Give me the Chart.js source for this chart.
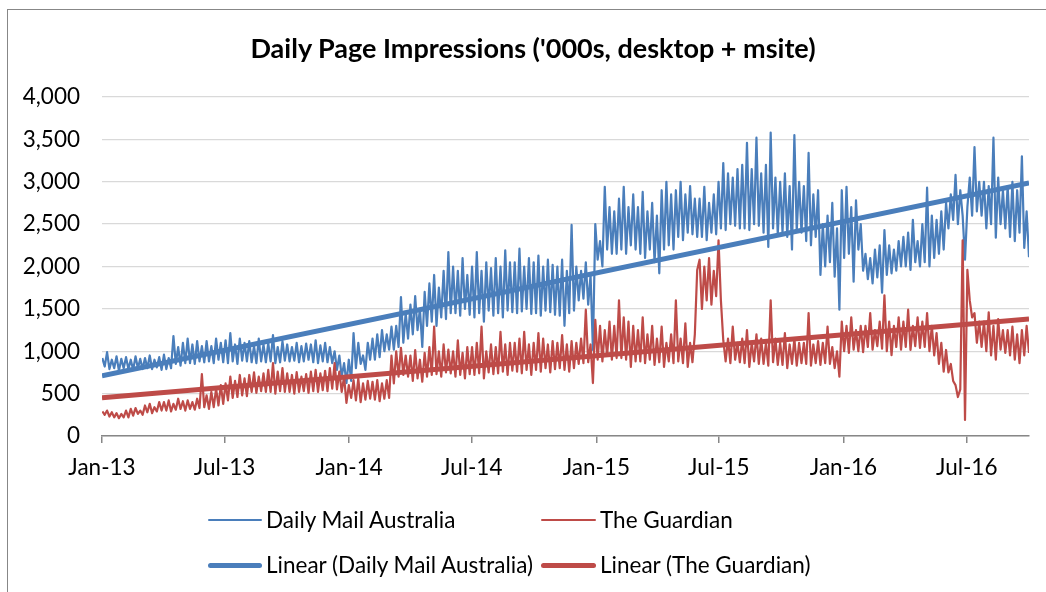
<!DOCTYPE html>
<html>
<head>
<meta charset="utf-8">
<title>Daily Page Impressions</title>
<script src="https://cdn.jsdelivr.net/npm/chart.js"></script>
<style>
  html, body { margin: 0; padding: 0; background: #fff; }
  #wrap { position: relative; width: 1046px; height: 592px; overflow: hidden; font-family: Lato, "Open Sans", sans-serif; }
  #frame { position: absolute; left: 7px; top: 9px; width: 1200px; height: 800px; border-left: 1.5px solid #878787; border-top: 1.5px solid #878787; box-sizing: border-box; }
  canvas { position: absolute; left: 0; top: 0; }
  #title { position: absolute; left: 0; width: 1066px; top: 32px; height: 32px; line-height: 32px; text-align: center; font-size: 27px; font-weight: bold; color: #000; white-space: nowrap; }
  .item { position: absolute; height: 30px; line-height: 30px; font-size: 22.5px; color: #000; white-space: nowrap; }
  .swatch { position: absolute; }
</style>
</head>
<body>
<div id="wrap">
  <div id="frame"></div>
  <canvas id="chart" width="1046" height="592"></canvas>
  <div id="title">Daily Page Impressions ('000s, desktop + msite)</div>
  <div id="legend"></div>
</div>
<script>
// x axis is in days since 1 Jan 2013
var tickDays = [0, 181, 365, 546, 730, 911, 1095, 1277];
var tickLabels = ['Jan-13', 'Jul-13', 'Jan-14', 'Jul-14', 'Jan-15', 'Jul-15', 'Jan-16', 'Jul-16'];
var lastDay = 1369;

// two readings per week (start of week / middle of week), Jan 2013 - Sep 2016
var dmEarly = [
  920, 990, 900, 940, 910,  930, 900, 940, 910,  920, 950, 900, 930,  960, 920, 1180, 1050, 1100,
  1150, 1080, 1120, 1060,  1120, 1060, 1150, 1100,  1130, 1215, 1080, 1150, 1100,  1120, 1060, 1150, 1080,
  1100, 1190, 1050, 1120,  1080, 1050, 1100, 1060, 1090,  1080, 1130, 1070, 1100,  1050, 1000, 950, 860,
  900, 1215, 1100, 950, 1100,  1150, 1200, 1250, 1200,  1290, 1300, 1640, 1450,  1550, 1650, 1500, 1700,
  1800, 1900, 1750, 1950, 2170,  2000, 1950, 2100, 1900,  2000, 2170, 1950, 2050, 1980,  2100, 2000, 2190, 2050,
  2050, 2210, 2000, 2100,  2050, 2130, 2000, 2080, 2020,  2000, 2080, 1950, 2490,  2000, 1950, 2050, 1900,
  2500, 2300, 2940, 2700, 2650,  2800, 2940, 2700, 2850,  2700, 2880, 2650, 2750,  2600, 2900, 3000, 2850,
  2900, 3000, 2850, 2950, 2800,  2800, 2940, 2750, 2850,  3000, 3220, 3100, 3050, 3150,  3200, 3460, 3150, 3520,
  3100, 3200, 3580, 3050,  3000, 3100, 2950, 3550, 3000,  2950, 3340, 2850, 2900,  2500, 2600, 2750, 2450,
  2900, 2940, 2700, 2780, 2500,  2150, 2100, 2200, 2250,  2430, 2250, 2200, 2300,  2350, 2400, 2550, 2300,
  2500, 2930, 2600, 2550, 2650,  2750, 2850, 3080, 2900,  2080, 3050, 3410, 3000,  3000, 2950, 3520, 3050, 2900,
  2950, 3000, 2900, 3300, 2650
];
var dmLate = [
  820, 790, 800, 770, 800,  790, 780, 800, 790,  800, 790, 810, 780,  790, 800, 850, 830, 860,
  860, 850, 880, 870,  880, 860, 900, 870,  860, 880, 850, 890, 880,  870, 860, 880, 870,
  880, 860, 870, 890,  880, 890, 870, 880, 900,  870, 860, 880, 870,  860, 780, 700, 625,
  650, 800, 850, 780, 900,  900, 930, 1000, 1020,  1020, 1050, 1100, 1150,  1200, 1250, 1050, 1300,
  1350, 1300, 1400, 1380, 1450,  1450, 1420, 1500, 1430,  1400, 1450, 1350, 1480, 1420,  1450, 1400, 1480, 1460,
  1450, 1470, 1500, 1440,  1450, 1420, 1480, 1460, 1430,  1420, 1300, 1450, 1480,  1600, 1620, 1550, 1015,
  2080, 2000, 2200, 2150, 2150,  2200, 2150, 2250, 2200,  2150, 2100, 2200, 2050,  1920, 2200, 2250, 2200,
  2350, 2310, 2400, 2380, 2350,  2350, 2310, 2400, 2380,  2450, 2430, 2500, 2480, 2450,  2450, 2430, 2500, 2480,
  2400, 2230, 2450, 2380,  2400, 2350, 2200, 2420, 2400,  2300, 2250, 2350, 1900,  2000, 2050, 1880, 1490,
  2100, 2150, 1820, 2200, 1950,  1850, 1800, 1870, 1690,  1900, 1920, 1950, 2000,  2000, 1960, 2050, 2000,
  2050, 2000, 2100, 2150, 2200,  2450, 2550, 2500, 2600,  2700, 2600, 2650, 2600,  2450, 2500, 2340, 2500, 2450,
  2350, 2300, 2400, 2220, 2110
];
var gEarly = [
  290, 300, 280, 270, 260,  300, 320, 330, 300,  360, 380, 340, 400,  400, 420, 380, 440, 410,
  420, 400, 440, 730,  480, 520, 560, 600,  620, 700, 650, 720, 680,  720, 750, 700, 740,
  780, 860, 760, 800,  740, 720, 755, 700, 730,  760, 780, 740, 770,  800, 860, 760, 700,
  600, 660, 680, 620, 650,  640, 660, 620, 660,  950, 1000, 1040, 950,  950, 1015, 900, 980,
  1050, 1290, 1000, 1080, 1020,  1000, 1130, 980, 1050,  1050, 1100, 1290, 1000, 1080,  1050, 1230, 1080, 1100,
  1100, 1150, 1230, 1080,  1100, 1215, 1150, 1080, 1120,  1100, 1190, 1080, 1120,  1100, 1150, 1490, 1080,
  1370, 1300, 1250, 1350, 1300,  1600, 1400, 1350, 1300,  1250, 1400, 1200, 1300,  1150, 1290, 1100, 1200,
  1600, 1150, 1330, 1100, 1200,  2080, 2000, 2100, 1950,  2310, 1130, 1150, 1290, 1100,  1150, 1250, 1100, 1200,
  1150, 1100, 1600, 1150,  1100, 1215, 1080, 1150, 1100,  1100, 1450, 1080, 1120,  1100, 1290, 1050, 1000,
  1350, 1300, 1400, 1250, 1300,  1300, 1450, 1250, 1350,  1660, 1350, 1300, 1400,  1350, 1490, 1300, 1400,
  1350, 1450, 1300, 1215, 1100,  1015, 850, 600, 550,  190, 1600, 1450, 1350,  1350, 1460, 1300, 1380, 1250,
  1250, 1290, 1200, 1250, 1300
];
var gLate = [
  250, 230, 220, 210, 220,  220, 240, 260, 250,  280, 270, 290, 300,  300, 290, 310, 320, 300,
  320, 310, 330, 340,  320, 340, 360, 380,  420, 450, 460, 480, 470,  520, 510, 530, 520,
  520, 500, 530, 520,  520, 500, 520, 530, 510,  530, 520, 540, 530,  560, 550, 520, 390,
  450, 420, 400, 430, 440,  430, 410, 440, 450,  620, 700, 720, 700,  650, 680, 640, 700,
  720, 730, 700, 750, 740,  700, 720, 680, 730,  720, 740, 680, 750, 730,  740, 760, 720, 770,
  760, 740, 780, 720,  780, 760, 800, 750, 790,  800, 780, 760, 800,  850, 860, 870, 625,
  900, 880, 950, 900, 920,  920, 900, 815, 880,  880, 860, 900, 840,  870, 815, 880, 860,
  880, 860, 815, 870, 1960,  1500, 1600, 1550, 1650,  1600, 880, 860, 900, 870,  860, 815, 880, 850,
  850, 830, 870, 840,  840, 800, 850, 830, 860,  850, 830, 860, 840,  860, 850, 800, 700,
  1000, 980, 1020, 1000, 990,  1050, 1020, 1060, 1030,  1000, 955, 1050, 1020,  1050, 1015, 1060, 1040,
  1050, 1000, 950, 850, 760,  750, 650, 460, 2310,  1960, 1400, 1100, 1050,  1000, 950, 900, 1020, 980,
  950, 900, 860, 950, 980
];

// linear trend end points
var dmTrend = [710, 2985];
var gTrend = [450, 1380];

var blue = '#4A7EBB';
var red = '#BE4B48';
var fontFamily = 'Lato, "Open Sans", sans-serif';

function weekPoints(early, late) {
    var pts = [];
    for (var w = 0; w < early.length; w++) {
        pts.push({ x: 7 * w + 0.5, y: early[w] });
        pts.push({ x: 7 * w + 4, y: late[w] });
    }
    return pts;
}

function trendPoints(t) {
    return [{ x: 0, y: t[0] }, { x: lastDay, y: t[1] }];
}

var datasets = [
    { label: 'Daily Mail Australia', data: weekPoints(dmEarly, dmLate), borderColor: blue, borderWidth: 2.2, order: 3 },
    { label: 'The Guardian', data: weekPoints(gEarly, gLate), borderColor: red, borderWidth: 2.2, order: 2 },
    { label: 'Linear (Daily Mail Australia)', data: trendPoints(dmTrend), borderColor: blue, borderWidth: 5, order: 1 },
    { label: 'Linear (The Guardian)', data: trendPoints(gTrend), borderColor: red, borderWidth: 5, order: 0 }
];
datasets.forEach(function (d) {
    d.pointRadius = 0;
    d.pointHoverRadius = 0;
    d.fill = false;
    d.tension = 0;
    d.borderJoinStyle = 'round';
});

var ctx = document.getElementById('chart').getContext('2d');
var chart = new Chart(ctx, {
    type: 'line',
    data: { datasets: datasets },
    options: {
        responsive: false,
        animation: false,
        devicePixelRatio: 1,
        layout: { padding: { left: 10, right: 17, top: 97, bottom: 106 } },
        plugins: {
            legend: { display: false },
            tooltip: { enabled: false },
            title: { display: false }
        },
        scales: {
            x: {
                type: 'linear',
                min: 0,
                max: lastDay,
                afterBuildTicks: function (scale) {
                    scale.ticks = tickDays.map(function (v) { return { value: v }; });
                },
                afterFit: function (scale) { scale.height = 50; },
                ticks: {
                    autoSkip: false,
                    maxRotation: 0,
                    padding: 11,
                    color: '#000',
                    font: { family: fontFamily, size: 22.5 },
                    callback: function (value, index) { return tickLabels[index]; }
                },
                grid: { drawOnChartArea: false, drawTicks: true, tickLength: 7, color: '#878787', lineWidth: 1.5 },
                border: { color: '#878787', width: 1.5 }
            },
            y: {
                min: 0,
                max: 4000,
                afterFit: function (scale) { scale.width = 92; },
                ticks: {
                    stepSize: 500,
                    padding: 22,
                    color: '#000',
                    font: { family: fontFamily, size: 22.5 },
                    callback: function (value) { return value.toLocaleString('en-US'); }
                },
                grid: { color: '#D9D9D9', lineWidth: 1.3, drawTicks: false },
                border: { display: false }
            }
        }
    }
});

// legend laid out as in the original: two columns, two rows
var legendSlots = [
    { left: 208, top: 520, width: 54, thick: 2 },
    { left: 541, top: 520, width: 55, thick: 2 },
    { left: 208, top: 565, width: 54, thick: 5 },
    { left: 541, top: 565, width: 55, thick: 5 }
];
var legend = document.getElementById('legend');
datasets.forEach(function (d, i) {
    var s = legendSlots[i];
    var sw = document.createElement('div');
    sw.className = 'swatch';
    sw.style.left = s.left + 'px';
    sw.style.top = (s.top - s.thick / 2) + 'px';
    sw.style.width = s.width + 'px';
    sw.style.height = s.thick + 'px';
    sw.style.background = d.borderColor;
    sw.style.borderRadius = (s.thick / 2) + 'px';
    legend.appendChild(sw);
    var it = document.createElement('div');
    it.className = 'item';
    it.style.left = (s.left + s.width + 4) + 'px';
    it.style.top = (s.top - 15) + 'px';
    it.textContent = d.label;
    legend.appendChild(it);
});
</script>
</body>
</html>
